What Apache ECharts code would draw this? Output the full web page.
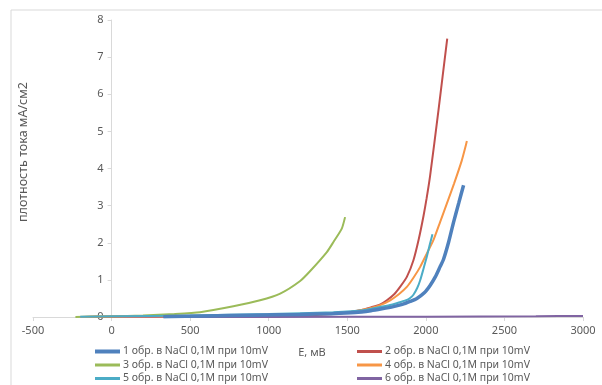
<!DOCTYPE html>
<html>
<head>
<meta charset="utf-8">
<script src="https://cdn.jsdelivr.net/npm/echarts@6/dist/echarts.min.js"></script>
<style>
  html, body { margin: 0; padding: 0; background: #fff; }
  #chart { width: 602px; height: 385px; }
</style>
</head>
<body>
<div id="chart"></div>
<script>
  // E, мВ  /  плотность тока мА/см2
  var names = [
    '1 обр. в NaCl 0,1M при 10mV',
    '2 обр. в NaCl 0,1M при 10mV',
    '3 обр. в NaCl 0,1M при 10mV',
    '4 обр. в NaCl 0,1M при 10mV',
    '5 обр. в NaCl 0,1M при 10mV',
    '6 обр. в NaCl 0,1M при 10mV'
  ];
  var colors = ['#4F81BD', '#C0504D', '#9BBB59', '#F79646', '#4BACC6', '#8064A2'];

  var e1 = [330, 600, 900, 1200, 1400, 1550, 1650, 1720, 1794, 1850, 1900, 1943, 1990, 2027, 2060, 2090, 2112, 2145, 2176, 2210, 2240];
  var j1 = [0.01, 0.03, 0.05, 0.07, 0.09, 0.12, 0.17, 0.22, 0.28, 0.34, 0.42, 0.5, 0.65, 0.85, 1.08, 1.35, 1.55, 2.02, 2.55, 3.08, 3.55];

  var e2 = [-200, 300, 800, 1200, 1410, 1500, 1582, 1650, 1710, 1752, 1800, 1836, 1879, 1921, 1955, 1985, 2005, 2027, 2080, 2136];
  var j2 = [0, 0.01, 0.02, 0.04, 0.08, 0.12, 0.18, 0.26, 0.34, 0.45, 0.62, 0.81, 1.08, 1.53, 2.1, 2.72, 3.2, 3.8, 5.56, 7.5];

  var e3 = [-230, 0, 200, 400, 563, 775, 945, 1073, 1200, 1264, 1370, 1412, 1465, 1486];
  var j3 = [0, 0.02, 0.04, 0.08, 0.13, 0.29, 0.45, 0.63, 0.97, 1.24, 1.75, 2.02, 2.38, 2.69];

  var e4 = [-200, 0, 500, 1000, 1400, 1500, 1582, 1650, 1709, 1773, 1830, 1879, 1920, 1964, 2005, 2048, 2090, 2134, 2180, 2229, 2250, 2261];
  var j4 = [0, 0.02, 0.03, 0.05, 0.09, 0.12, 0.18, 0.24, 0.32, 0.45, 0.62, 0.81, 1.05, 1.35, 1.7, 2.07, 2.55, 3.06, 3.6, 4.22, 4.55, 4.74];

  var e5 = [-200, 0, 500, 1000, 1412, 1600, 1709, 1780, 1836, 1880, 1900, 1921, 1945, 1964, 1985, 2006, 2025, 2042];
  var j5 = [0.01, 0.02, 0.04, 0.08, 0.13, 0.18, 0.27, 0.33, 0.4, 0.46, 0.51, 0.6, 0.78, 0.99, 1.3, 1.62, 1.95, 2.23];

  var e6 = [330, 1000, 2000, 2700, 3000];
  var j6 = [0, 0, 0.01, 0.02, 0.03];

  var xs = [e1, e2, e3, e4, e5, e6];
  var ys = [j1, j2, j3, j4, j5, j6];

  function pairs(x, y) {
    var out = [];
    for (var i = 0; i < x.length; i++) out.push([x[i], y[i]]);
    return out;
  }

  var series = [];
  for (var k = 0; k < 6; k++) {
    series.push({
      name: names[k],
      type: 'line',
      data: pairs(xs[k], ys[k]),
      smooth: 0.2,
      showSymbol: false,
      symbol: 'none',
      lineStyle: { color: colors[k], width: k === 0 ? 3.5 : 2 },
      itemStyle: { color: colors[k] },
      z: k === 0 ? 3 : 2
    });
  }

  // legend: 2 columns x 3 rows
  var legendPos = [[95, 346], [357, 346], [95, 359.5], [357, 359.5], [95, 373], [357, 373]];
  var legends = [];
  for (var m = 0; m < 6; m++) {
    legends.push({
      data: [names[m]],
      left: legendPos[m][0],
      top: legendPos[m][1],
      icon: 'rect',
      itemWidth: 25,
      itemHeight: m === 0 ? 4 : 3,
      itemGap: 0,
      padding: 0,
      selectedMode: false,
      textStyle: { color: '#595959', fontSize: 10.5, fontFamily: 'Noto Sans', padding: [0, 0, 0, -2] }
    });
  }

  var myChart = echarts.init(document.getElementById('chart'));
  myChart.setOption({
    animation: false,
    textStyle: { fontFamily: 'Noto Sans' },
    grid: { left: 33, right: 19, top: 20, bottom: 68 },
    legend: legends,
    xAxis: {
      type: 'value',
      min: -500,
      max: 3000,
      interval: 500,
      axisLine: { onZero: false, lineStyle: { color: '#d9d9d9' } },
      axisTick: { show: true, length: 4, lineStyle: { color: '#d9d9d9' } },
      axisLabel: { color: '#595959', fontSize: 11, margin: 8, formatter: function (v) { return String(v); } },
      splitLine: { show: false }
    },
    yAxis: {
      type: 'value',
      min: 0,
      max: 8,
      interval: 1,
      position: 'left',
      offset: -78.6,
      axisLine: { show: true, onZero: false, lineStyle: { color: '#d9d9d9' } },
      axisTick: { show: true, length: 4, lineStyle: { color: '#d9d9d9' } },
      axisLabel: { color: '#595959', fontSize: 11, margin: 8 },
      splitLine: { show: false }
    },
    graphic: [
      {
        type: 'rect',
        shape: { x: 11, y: 10, width: 620, height: 420 },
        style: { fill: 'none', stroke: '#d9d9d9', lineWidth: 1 },
        silent: true
      },
      {
        type: 'text',
        x: 23,
        y: 152,
        rotation: Math.PI / 2,
        style: {
          text: 'плотность тока мА/см2',
          fill: '#595959',
          fontSize: 12.5,
          fontFamily: 'Noto Sans',
          align: 'center',
          verticalAlign: 'middle'
        }
      },
      {
        type: 'text',
        x: 312,
        y: 353,
        style: {
          text: 'E, мВ',
          fill: '#595959',
          fontSize: 11,
          fontFamily: 'Noto Sans',
          align: 'center',
          verticalAlign: 'middle'
        }
      }
    ],
    series: series
  });
</script>
</body>
</html>
